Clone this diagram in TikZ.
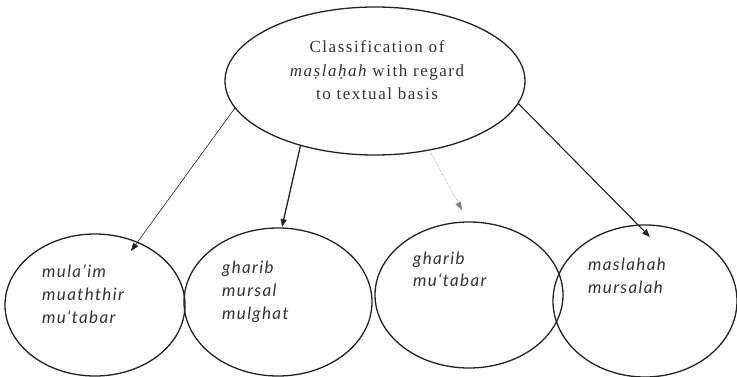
\documentclass[tikz,border=0pt]{standalone}
\usepackage{fontspec}
\setmainfont{Liberation Serif}
\newfontfamily\topfont[LetterSpace=9]{Liberation Serif}
\newfontfamily\leaffont[LetterSpace=8]{Lato Italic}
\usetikzlibrary{shapes.geometric,arrows.meta,calc}
\definecolor{ink}{HTML}{222222}
\definecolor{txt}{HTML}{333333}
\tikzset{
  oval/.style={ellipse, draw=ink, line width=1.3pt, inner sep=0pt},
  toptext/.style={inner sep=0pt, align=center, text=txt, font=\fontsize{17}{23.5}\selectfont\topfont},
  leaftext/.style={inner sep=0pt, anchor=base west, align=left, text=txt, font=\fontsize{17}{23}\selectfont\leaffont},
  link/.style={draw=ink, -{Triangle[length=8pt,width=6pt]}},
}
\begin{document}
\begin{tikzpicture}[x=1pt,y=-1pt]
\useasboundingbox (0,0) rectangle (737,377);
\node[oval, minimum width=300pt, minimum height=148pt] (top) at (375,81) {};
\node[oval, minimum width=180pt, minimum height=142pt] (b1) at (95,305) {};
\node[oval, minimum width=188pt, minimum height=148pt] (b2) at (278,302) {};
\node[oval, minimum width=188pt, minimum height=146pt] (b3) at (469,295) {};
\node[oval, minimum width=184pt, minimum height=152pt] (b4) at (645,301) {};

\node[toptext, anchor=base] (t1) at (377,53) {Classification of};
\node[toptext, anchor=base] (t2) at (377,76.5) {{\itshape ma\d{s}la\d{h}ah} with regard};
\node[toptext, anchor=base] (t3) at (377,100) {to textual basis};

% anchor base = baseline of the last line
\node[leaftext] (l1) at (42,323) {mula’im\\muaththir\\mu‘tabar};
\node[leaftext] (l2) at (222,319) {gharib\\mursal\\mulghat};
\node[leaftext] (l3) at (413,287) {gharib\\mu‘tabar};
\node[leaftext] (l4) at (588,293) {maslahah\\mursalah};

\coordinate (e1) at ($(b1.center)+(36,-54)$);
\coordinate (e2) at ($(b2.center)+(4,-75)$);
\coordinate (e3) at ($(b3.center)+(-7,-85)$);
\coordinate (e4) at ($(b4.center)+(5,-64)$);
\draw[link, line width=0.6pt] (top.191.5) -- (e1);
\draw[link, line width=1.3pt] (top.221.4) -- (e2);
\draw[link, line width=0.5pt, draw=gray, densely dotted] (top.308.8) -- (e3);
\draw[link, line width=1.1pt] (top.351.5) -- (e4);
\end{tikzpicture}
\end{document}
